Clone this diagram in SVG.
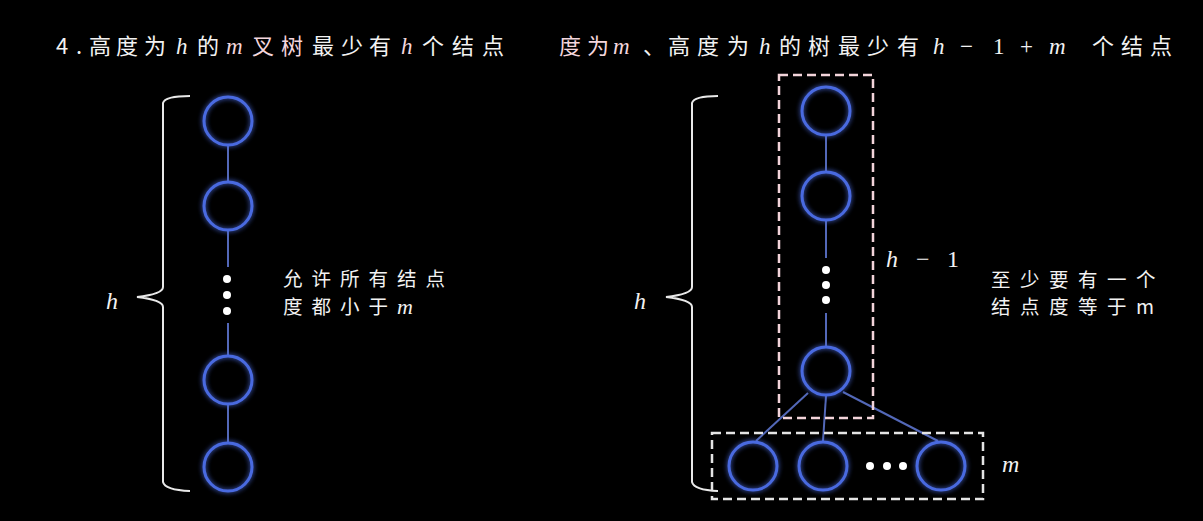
<svg xmlns="http://www.w3.org/2000/svg" width="1203" height="521" viewBox="0 0 1203 521">
<defs>
<filter id="glow" x="-50%" y="-50%" width="200%" height="200%">
<feGaussianBlur in="SourceGraphic" stdDeviation="2.5" result="b"/>
<feMerge><feMergeNode in="b"/><feMergeNode in="SourceGraphic"/></feMerge>
</filter>
<style>
.cjk{font-family:"Noto Sans CJK SC","Noto Sans",sans-serif;fill:#f2f2f2;}
.t{font-size:22px;}
.lab{font-size:19.5px;}
.math{font-family:"Liberation Serif","DejaVu Serif",serif;font-style:italic;}
.pink{fill:#f4d6dd;}
.node{fill:none;stroke:#4a6ae0;stroke-width:3;filter:url(#glow);}
.edge{stroke:#5368b8;stroke-width:2;fill:none;}
.dot{fill:#ffffff;}
.brace{fill:none;stroke:#e8e8e8;stroke-width:2;}
.box{fill:none;stroke-width:2.5;stroke-dasharray:9 5;}
</style>
</defs>
<rect width="1203" height="521" fill="#000"/>

<g id="title-left">
<text class="cjk t" y="54"><tspan x="56">4</tspan><tspan x="76">.</tspan><tspan x="89">高</tspan><tspan x="116">度</tspan><tspan x="144">为</tspan><tspan x="176" class="math" font-size="23">h</tspan><tspan x="197">的</tspan><tspan x="226" class="math pink" font-size="23">m</tspan><tspan x="252" class="pink">叉</tspan><tspan x="281" class="pink">树</tspan><tspan x="312">最</tspan><tspan x="341">少</tspan><tspan x="369">有</tspan><tspan x="401" class="math pink" font-size="23">h</tspan><tspan x="422">个</tspan><tspan x="452">结</tspan><tspan x="482">点</tspan></text>
</g>

<g id="title-right">
<text class="cjk t" y="54"><tspan x="559" class="pink">度</tspan><tspan x="587" class="pink">为</tspan><tspan x="613" class="math pink" font-size="23">m</tspan><tspan x="643">、</tspan><tspan x="668">高</tspan><tspan x="697">度</tspan><tspan x="727">为</tspan><tspan x="759" class="math" font-size="23">h</tspan><tspan x="779">的</tspan><tspan x="808">树</tspan><tspan x="838">最</tspan><tspan x="867">少</tspan><tspan x="897">有</tspan><tspan x="933" class="math" font-size="23">h</tspan><tspan x="960" font-family="Liberation Serif" font-size="23">−</tspan><tspan x="993" font-family="Liberation Serif" font-size="23">1</tspan><tspan x="1020" font-family="Liberation Serif" font-size="23">+</tspan><tspan x="1049" class="math" font-size="23">m</tspan><tspan x="1092">个</tspan><tspan x="1121">结</tspan><tspan x="1150">点</tspan></text>
</g>

<g id="connectors">
<line class="edge" x1="228" y1="146" x2="228" y2="182"/>
<line class="edge" x1="228" y1="231" x2="228" y2="267"/>
<line class="edge" x1="228" y1="323" x2="228" y2="357"/>
<line class="edge" x1="228" y1="403" x2="228" y2="443"/>
<line class="edge" x1="826" y1="136" x2="826" y2="172"/>
<line class="edge" x1="826" y1="221" x2="826" y2="258"/>
<line class="edge" x1="826" y1="313" x2="826" y2="347"/>
<line class="edge" x1="808" y1="393" x2="756" y2="441"/>
<line class="edge" x1="826" y1="396" x2="823" y2="441"/>
<line class="edge" x1="843" y1="392" x2="938" y2="441"/>
</g>

<g id="left-tree">
<g id="L1"><circle class="node" cx="228" cy="121" r="24"/></g>
<g id="L2"><circle class="node" cx="228" cy="206" r="24"/></g>
<g id="Ldots"><circle class="dot" cx="227" cy="279" r="4"/><circle class="dot" cx="227" cy="295" r="4"/><circle class="dot" cx="227" cy="311" r="4"/></g>
<g id="L3"><circle class="node" cx="228" cy="380" r="24"/></g>
<g id="L4"><circle class="node" cx="228" cy="467" r="24"/></g>
</g>

<g id="left-brace">
<path class="brace" d="M190,96 Q165,96 163,103 L163,287 Q163,294 137,297 Q163,300 163,307 L163,482 Q165,490 190,491"/>
<text class="math" x="106" y="309" font-size="24" fill="#f2f2f2">h</text>
</g>

<g id="left-label">
<text class="cjk lab" y="286" letter-spacing="9" x="283">允许所有结点</text>
<text class="cjk lab" y="314"><tspan x="283" letter-spacing="9">度都小于</tspan><tspan class="math" font-size="22">m</tspan></text>
</g>

<g id="right-brace">
<path class="brace" d="M718,96 Q694,96 692,103 L692,287 Q692,294 666,297 Q692,300 692,307 L692,482 Q694,490 718,491"/>
<text class="math" x="634" y="309" font-size="24" fill="#f2f2f2">h</text>
</g>

<g id="pink-box"><rect class="box" x="779" y="75" width="94" height="343" stroke="#f3d4da"/></g>
<g id="m-box"><rect class="box" x="712" y="433" width="271" height="66" stroke="#e4e4e4"/></g>

<g id="right-tree">
<g id="R1"><circle class="node" cx="826" cy="111" r="24"/></g>
<g id="R2"><circle class="node" cx="826" cy="196" r="24"/></g>
<g id="Rdots"><circle class="dot" cx="826" cy="270" r="4"/><circle class="dot" cx="826" cy="285" r="4"/><circle class="dot" cx="826" cy="300" r="4"/></g>
<g id="R3"><circle class="node" cx="826" cy="371" r="24"/></g>
<g id="C1"><circle class="node" cx="753" cy="466" r="24"/></g>
<g id="C2"><circle class="node" cx="823" cy="466" r="24"/></g>
<g id="Cdots"><circle class="dot" cx="870" cy="466" r="4"/><circle class="dot" cx="887" cy="466" r="4"/><circle class="dot" cx="903" cy="466" r="4"/></g>
<g id="C3"><circle class="node" cx="941" cy="466" r="24"/></g>
</g>

<g id="h1-label"><text y="267" font-size="24" fill="#f2f2f2"><tspan x="886" class="math">h</tspan><tspan x="916" font-family="Liberation Serif">−</tspan><tspan x="947" font-family="Liberation Serif">1</tspan></text></g>

<g id="right-label">
<text class="cjk lab" y="287" x="991" letter-spacing="9.5">至少要有一个</text>
<text class="cjk lab" y="314" x="991" letter-spacing="9.5">结点度等于m</text>
</g>

<g id="m-label"><text class="math" x="1002" y="472" font-size="24" fill="#f2f2f2">m</text></g>
</svg>
